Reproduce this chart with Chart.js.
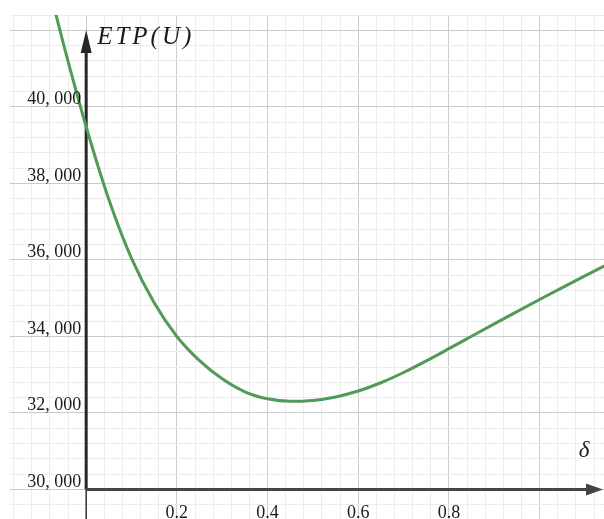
<!DOCTYPE html>
<html>
<head>
<meta charset="utf-8">
<script src="https://cdn.jsdelivr.net/npm/chart.js@4.4.1/dist/chart.umd.min.js"></script>
<style>
  html, body { margin: 0; padding: 0; background: #fff; }
  #wrap { width: 604px; height: 519px; }
</style>
</head>
<body>
<div id="wrap"><canvas id="etpChart" width="604" height="519"></canvas></div>
<script>
// Curve: delta -> ETP(U)
const deltaValues = [-0.1, -0.05, 0, 0.05, 0.1, 0.15, 0.2, 0.25, 0.3, 0.35, 0.4, 0.45, 0.5, 0.55, 0.6, 0.65, 0.7, 0.75, 0.8, 0.85, 0.9, 0.95, 1.0, 1.05, 1.1, 1.15];
const etpValues = [43960, 41640, 39480, 37580, 36040, 34880, 34000, 33367, 32892, 32554, 32371, 32306, 32328, 32420, 32575, 32790, 33058, 33361, 33681, 34006, 34330, 34650, 34965, 35275, 35581, 35885];

// Axis labels
const xTickLabels = [0.2, 0.4, 0.6, 0.8];
const yTickLabels = [30000, 32000, 34000, 36000, 38000, 40000];

// Visible window and grid steps
const X_MIN = -0.168, X_MAX = 1.142;
const Y_MIN = 29230, Y_MAX = 42400;
const X_MINOR = 0.04, X_MAJOR = 0.2;
const Y_MINOR = 400, Y_MAJOR = 2000;

const MAJOR_GRID = '#cbcbcb';
const MINOR_GRID = '#ececec';

function gridTicks(min, max, step) {
    const ticks = [];
    const start = Math.ceil(min / step - 1e-9);
    const end = Math.floor(max / step + 1e-9);
    for (let i = start; i <= end; i++) {
        ticks.push({ value: Math.round(i * step * 1e6) / 1e6 });
    }
    return ticks;
}

function isMajor(value, major) {
    const r = Math.abs(value / major - Math.round(value / major));
    return r < 1e-6;
}

function fmtThousands(v) {
    const s = String(v);
    return s.slice(0, s.length - 3) + ', ' + s.slice(-3);
}

// Draw the arrowed axes under the curve, labels on top
const axesPlugin = {
    id: 'axesPlugin',
    beforeDatasetsDraw(chart) {
        const ctx = chart.ctx;
        const area = chart.chartArea;
        const xs = chart.scales.x, ys = chart.scales.y;
        const ox = xs.getPixelForValue(0);
        const oy = ys.getPixelForValue(30000);
        ctx.save();

        // y axis below the origin (thin)
        ctx.strokeStyle = '#333';
        ctx.lineWidth = 1.5;
        ctx.beginPath();
        ctx.moveTo(ox, oy);
        ctx.lineTo(ox, area.bottom);
        ctx.stroke();

        // y axis
        const tipY = area.top + 15;
        ctx.strokeStyle = '#262626';
        ctx.fillStyle = '#262626';
        ctx.lineWidth = 3;
        ctx.beginPath();
        ctx.moveTo(ox, oy);
        ctx.lineTo(ox, tipY + 20);
        ctx.stroke();
        ctx.beginPath();
        ctx.moveTo(ox, tipY);
        ctx.lineTo(ox - 5.5, tipY + 23);
        ctx.lineTo(ox + 5.5, tipY + 23);
        ctx.closePath();
        ctx.fill();

        // x axis
        const tipX = area.right - 1;
        ctx.strokeStyle = '#444';
        ctx.fillStyle = '#444';
        ctx.beginPath();
        ctx.moveTo(ox, oy);
        ctx.lineTo(tipX - 14, oy);
        ctx.stroke();
        ctx.beginPath();
        ctx.moveTo(tipX, oy);
        ctx.lineTo(tipX - 17, oy - 6);
        ctx.lineTo(tipX - 17, oy + 6);
        ctx.closePath();
        ctx.fill();
        ctx.restore();
    },
    afterDraw(chart) {
        const ctx = chart.ctx;
        const area = chart.chartArea;
        const xs = chart.scales.x, ys = chart.scales.y;
        const ox = xs.getPixelForValue(0);
        ctx.save();
        ctx.fillStyle = '#1a1a1a';

        // y tick labels
        ctx.font = '18px "Liberation Serif", "Times New Roman", serif';
        ctx.textAlign = 'right';
        ctx.textBaseline = 'alphabetic';
        yTickLabels.forEach(v => {
            ctx.fillText(fmtThousands(v), ox - 5, ys.getPixelForValue(v) - 2.5);
        });

        // x tick labels
        ctx.textAlign = 'center';
        xTickLabels.forEach(v => {
            ctx.fillText(v.toFixed(1), xs.getPixelForValue(v), area.bottom - 1.5);
        });

        // axis titles
        ctx.font = 'italic 25px "Liberation Serif", "Times New Roman", serif';
        ctx.textAlign = 'left';
        ctx.letterSpacing = '3px';
        ctx.fillText('ETP(U)', ox + 11, 44);
        ctx.letterSpacing = '0px';
        ctx.font = 'italic 23px "Liberation Serif", "Times New Roman", serif';
        ctx.textAlign = 'center';
        ctx.fillText('δ', 584, 457);
        ctx.restore();
    }
};

const points = deltaValues.map((d, i) => ({ x: d, y: etpValues[i] }));

new Chart(document.getElementById('etpChart'), {
    type: 'line',
    data: {
        datasets: [{
            data: points,
            borderColor: '#519a57',
            borderWidth: 3,
            pointRadius: 0,
            fill: false,
            cubicInterpolationMode: 'monotone',
            clip: 0
        }]
    },
    options: {
        responsive: false,
        animation: false,
        layout: { padding: { left: 10, top: 15, right: 0, bottom: 0 } },
        plugins: {
            legend: { display: false },
            tooltip: { enabled: false }
        },
        scales: {
            x: {
                type: 'linear',
                min: X_MIN,
                max: X_MAX,
                afterBuildTicks: scale => { scale.ticks = gridTicks(X_MIN, X_MAX, X_MINOR); },
                ticks: { display: false, padding: 0 },
                border: { display: false },
                grid: {
                    drawTicks: false,
                    lineWidth: 1,
                    color: c => isMajor(c.tick.value, X_MAJOR) ? MAJOR_GRID : MINOR_GRID
                }
            },
            y: {
                type: 'linear',
                min: Y_MIN,
                max: Y_MAX,
                afterBuildTicks: scale => { scale.ticks = gridTicks(Y_MIN, Y_MAX, Y_MINOR); },
                ticks: { display: false, padding: 0 },
                border: { display: false },
                grid: {
                    drawTicks: false,
                    lineWidth: 1,
                    color: c => isMajor(c.tick.value, Y_MAJOR) ? MAJOR_GRID : MINOR_GRID
                }
            }
        }
    },
    plugins: [axesPlugin]
});
</script>
</body>
</html>
